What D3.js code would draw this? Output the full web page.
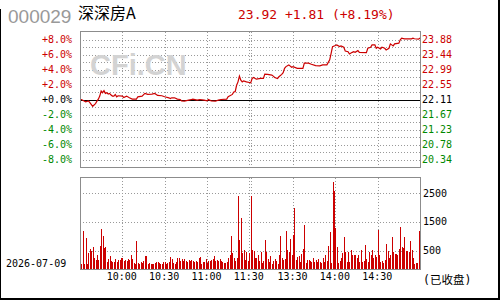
<!DOCTYPE html>
<html>
<head>
<meta charset="utf-8">
<script src="https://cdn.jsdelivr.net/npm/d3@7"></script>
<style>
  body { margin: 0; background: #fff; }
  svg { display: block; }
</style>
</head>
<body>
<svg id="chart"></svg>
<script>
const stockCode = '000029';
const stockName = '深深房A';
const quoteText = '23.92 +1.81 (+8.19%)';
const tradeDate = '2026-07-09';
const closedText = '(已收盘)';
const prevClose = 22.11;

// minute line
const priceTimes = [
  '09:30', '09:31', '09:34', '09:36', '09:37', '09:39', '09:41', '09:42', '09:43', '09:44',
  '09:45', '09:46', '09:47', '09:48', '09:49', '09:50', '09:51', '09:52', '09:53', '09:54',
  '09:55', '09:56', '09:57', '10:00', '10:01', '10:03', '10:05', '10:07', '10:10', '10:11',
  '10:14', '10:16', '10:18', '10:21', '10:23', '10:25', '10:28', '10:30', '10:33', '10:34',
  '10:35', '10:37', '10:39', '10:41', '10:42', '10:44', '10:47', '10:49', '10:50', '10:53',
  '10:55', '10:58', '11:00', '11:01', '11:03', '11:06', '11:08', '11:10', '11:14', '11:15',
  '11:18', '11:19', '11:20', '11:21', '11:22', '11:23', '11:24', '11:25', '11:26', '11:28',
  '11:30', '13:00', '13:01', '13:02', '13:04', '13:07', '13:09', '13:10', '13:12', '13:15',
  '13:16', '13:17', '13:19', '13:20', '13:22', '13:23', '13:24', '13:25', '13:27', '13:29',
  '13:30', '13:33', '13:37', '13:38', '13:41', '13:43', '13:46', '13:49', '13:51', '13:54',
  '13:56', '13:57', '13:58', '14:00', '14:01', '14:03', '14:04', '14:06', '14:07', '14:09',
  '14:10', '14:12', '14:13', '14:14', '14:16', '14:17', '14:22', '14:23', '14:25', '14:26',
  '14:28', '14:29', '14:30', '14:32', '14:33', '14:35', '14:36', '14:38', '14:39', '14:41',
  '14:42', '14:45', '14:46', '14:47', '14:49', '14:54', '14:55', '14:56', '14:59', '15:00'
];
const priceValues = [
  22.11, 22.11, 22.04, 22.07, 22.02, 21.91, 21.99, 22.06, 22.12, 22.21,
  22.36, 22.31, 22.37, 22.29, 22.31, 22.27, 22.29, 22.24, 22.21, 22.21,
  22.26, 22.19, 22.22, 22.21, 22.17, 22.21, 22.16, 22.12, 22.12, 22.19,
  22.21, 22.29, 22.26, 22.27, 22.29, 22.23, 22.22, 22.19, 22.16, 22.14,
  22.16, 22.16, 22.12, 22.11, 22.07, 22.06, 22.09, 22.11, 22.12, 22.09,
  22.11, 22.09, 22.07, 22.11, 22.07, 22.06, 22.09, 22.11, 22.12, 22.19,
  22.26, 22.33, 22.34, 22.53, 22.63, 22.80, 22.68, 22.63, 22.66, 22.63,
  22.61, 22.60, 22.73, 22.76, 22.71, 22.73, 22.73, 22.86, 22.85, 22.83,
  22.80, 22.76, 22.73, 22.78, 22.85, 22.90, 23.03, 23.08, 23.13, 23.06,
  23.08, 23.03, 23.03, 23.18, 23.18, 23.15, 23.11, 23.10, 23.13, 23.13,
  23.28, 23.47, 23.67, 23.70, 23.72, 23.67, 23.69, 23.65, 23.54, 23.52,
  23.45, 23.50, 23.52, 23.50, 23.55, 23.50, 23.49, 23.62, 23.65, 23.72,
  23.72, 23.62, 23.65, 23.60, 23.65, 23.62, 23.57, 23.62, 23.75, 23.69,
  23.75, 23.77, 23.87, 23.92, 23.90, 23.90, 23.92, 23.90, 23.89, 23.92
];

// volume per minute, 09:30-11:30 then 13:00-15:00
const volMorning = [
  0, 20, 1190, 20, 945, 20, 430, 560, 500, 640,
  235, 175, 350, 175, 665, 1260, 990, 605, 640, 95,
  210, 315, 140, 95, 120, 200, 95, 175, 175, 235,
  260, 140, 175, 140, 210, 175, 330, 210, 60, 20,
  840, 60, 40, 105, 85, 140, 315, 315, 20, 60,
  40, 40, 40, 60, 105, 105, 60, 40, 40, 95,
  105, 20, 60, 95, 280, 210, 60, 20, 120, 260,
  260, 140, 210, 140, 210, 140, 120, 175, 140, 175,
  140, 95, 140, 120, 260, 280, 20, 95, 95, 200,
  60, 140, 140, 175, 210, 315, 140, 175, 140, 200,
  140, 95, 60, 60, 95, 260, 350, 1015, 400, 260,
  140, 235, 2410, 875, 1630, 400, 525, 165, 445, 140, 410
];
const volAfternoon = [
  2385, 525, 490, 235, 235, 330, 140, 445, 60, 140,
  875, 445, 210, 95, 315, 20, 140, 200, 140, 40,
  350, 1015, 260, 175, 210, 1190, 525, 445, 910, 350,
  1050, 1980, 175, 295, 315, 95, 385, 560, 1400, 60,
  175, 175, 140, 95, 260, 95, 175, 95, 210, 95,
  60, 260, 95, 340, 140, 665, 1140, 60, 2885, 2585,
  1280, 640, 60, 140, 235, 410, 970, 445, 95, 445,
  95, 525, 350, 330, 350, 260, 330, 95, 525, 95,
  140, 700, 210, 95, 445, 350, 525, 235, 350, 295,
  1220, 330, 95, 140, 60, 175, 735, 470, 260, 350,
  955, 445, 385, 385, 350, 560, 1305, 640, 585, 955,
  470, 500, 445, 850, 525, 235, 20, 60, 60, 1165, 0
];

const gridTimes = ['10:00', '10:30', '11:00', '11:30', '13:00', '13:30', '14:00', '14:30'];
const timeLabels = ['10:00', '10:30', '11:00', '11:30', '13:30', '14:00', '14:30'];
const pctTicks = [8, 6, 4, 2, 0, -2, -4, -6, -8];
const pctGrid = [-8, -7, -6, -5, -4, -3, -2, -1, 1, 2, 3, 4, 5, 6, 7, 8];
const volTicks = [500, 1500, 2500];

const RED = '#cc0000';
const GREEN = '#008800';
const GRID = '#999999';
const MONO = '"DejaVu Sans Mono", monospace';

const minuteIndex = (t) => {
  const [h, m] = t.split(':').map(Number);
  const mins = h * 60 + m;
  return mins <= 690 ? mins - 570 : mins - 780 + 121;
};

const volumes = volMorning.concat(volAfternoon);
const prices = priceTimes.map((t, i) => ({ i: minuteIndex(t), p: priceValues[i] }));
const toPct = p => (p / prevClose - 1) * 100;

const plot = { left: 80, right: 420, top: 32, bottom: 167 };
const volBox = { top: 178, bottom: 269 };

const xScale = d3.scaleLinear().domain([0, 241]).range([plot.left, plot.right]);
const yPct = d3.scaleLinear().domain([-9, 9]).range([plot.bottom, plot.top]);
// the bars stand on the panel floor, a little under the scale's zero, as in the original
const yVol = d3.scaleLinear().domain([0, 3020]).range([265, volBox.top]);

const svg = d3.select('#chart')
  .attr('width', 500)
  .attr('height', 300)
  .style('font-family', MONO);

svg.append('rect')
  .attr('width', 500)
  .attr('height', 300)
  .attr('fill', '#fff');

// header
svg.append('text')
  .attr('x', 8)
  .attr('y', 23)
  .attr('font-family', '"Liberation Sans", Arial, sans-serif')
  .attr('font-size', 19)
  .attr('fill', '#999')
  .text(stockCode);

svg.append('text')
  .attr('x', 78)
  .attr('y', 19)
  .attr('font-family', '"Noto Sans CJK SC", sans-serif')
  .attr('font-size', 16)
  .attr('fill', '#000')
  .text(stockName);

svg.append('text')
  .attr('x', 238)
  .attr('y', 19)
  .attr('font-size', 13)
  .attr('fill', RED)
  .text(quoteText);

// price panel grid
const priceGrid = svg.append('g')
  .attr('stroke', GRID)
  .attr('stroke-dasharray', '1,2')
  .attr('shape-rendering', 'crispEdges');

priceGrid.selectAll('.hgrid')
  .data(pctGrid)
  .enter().append('line')
  .attr('x1', plot.left)
  .attr('x2', plot.right)
  .attr('y1', d => Math.round(yPct(d)) + 0.5)
  .attr('y2', d => Math.round(yPct(d)) + 0.5);

priceGrid.selectAll('.vgrid')
  .data(gridTimes)
  .enter().append('line')
  .attr('x1', d => Math.round(xScale(minuteIndex(d))) + 0.5)
  .attr('x2', d => Math.round(xScale(minuteIndex(d))) + 0.5)
  .attr('y1', plot.top)
  .attr('y2', plot.bottom);

svg.append('text')
  .attr('x', 90)
  .attr('y', 75)
  .attr('font-family', '"Liberation Sans", Arial, sans-serif')
  .attr('font-weight', 'bold')
  .attr('font-size', 29)
  .attr('fill', '#d3d3d3')
  .text('CFi.CN');

svg.append('line')
  .attr('x1', plot.left)
  .attr('x2', plot.right)
  .attr('y1', Math.round(yPct(0)) + 0.5)
  .attr('y2', Math.round(yPct(0)) + 0.5)
  .attr('stroke', '#000')
  .attr('shape-rendering', 'crispEdges');

const line = d3.line()
  .x(d => xScale(d.i))
  .y(d => yPct(toPct(d.p)));

svg.append('path')
  .datum(prices)
  .attr('d', line)
  .attr('fill', 'none')
  .attr('stroke', RED)
  .attr('stroke-width', 1.2);

svg.append('rect')
  .attr('x', plot.left + 0.5)
  .attr('y', plot.top - 0.5)
  .attr('width', plot.right - plot.left)
  .attr('height', plot.bottom - plot.top + 1)
  .attr('fill', 'none')
  .attr('stroke', '#8c8c8c')
  .attr('shape-rendering', 'crispEdges');

const pctColor = d => (d > 0 ? RED : d < 0 ? GREEN : '#000');

const leftAxis = svg.append('g')
  .attr('transform', `translate(${plot.left},0)`)
  .call(d3.axisLeft(yPct)
    .tickValues(pctTicks)
    .tickSize(0)
    .tickPadding(8)
    .tickFormat(d => `${d >= 0 ? '+' : '-'}${Math.abs(d).toFixed(1)}%`));
leftAxis.select('.domain').remove();
leftAxis.selectAll('text')
  .attr('font-family', MONO)
  .attr('font-size', 10)
  .attr('fill', pctColor);

const rightAxis = svg.append('g')
  .attr('transform', `translate(${plot.right},0)`)
  .call(d3.axisRight(yPct)
    .tickValues(pctTicks)
    .tickSize(0)
    .tickPadding(2)
    .tickFormat(d => (prevClose * (1 + d / 100)).toFixed(2)));
rightAxis.select('.domain').remove();
rightAxis.selectAll('text')
  .attr('font-family', MONO)
  .attr('font-size', 10)
  .attr('fill', pctColor);

// volume panel
const volGrid = svg.append('g')
  .attr('stroke', GRID)
  .attr('stroke-dasharray', '1,2')
  .attr('shape-rendering', 'crispEdges');

volGrid.selectAll('.hgrid')
  .data(volTicks)
  .enter().append('line')
  .attr('x1', plot.left)
  .attr('x2', plot.right)
  .attr('y1', d => Math.round(yVol(d)) + 0.5)
  .attr('y2', d => Math.round(yVol(d)) + 0.5);

volGrid.selectAll('.vgrid')
  .data(gridTimes)
  .enter().append('line')
  .attr('x1', d => Math.round(xScale(minuteIndex(d))) + 0.5)
  .attr('x2', d => Math.round(xScale(minuteIndex(d))) + 0.5)
  .attr('y1', volBox.top)
  .attr('y2', volBox.bottom);

svg.append('g')
  .attr('fill', RED)
  .attr('shape-rendering', 'crispEdges')
  .selectAll('rect')
  .data(volumes)
  .enter().append('rect')
  .attr('x', (d, i) => Math.round(xScale(i)))
  .attr('y', d => Math.min(yVol(d), volBox.bottom))
  .attr('width', 1)
  .attr('height', d => Math.max(0, volBox.bottom - yVol(d)))
  .attr('display', d => (d > 0 ? null : 'none'));

svg.append('rect')
  .attr('x', plot.left + 0.5)
  .attr('y', volBox.top - 0.5)
  .attr('width', plot.right - plot.left)
  .attr('height', volBox.bottom - volBox.top + 1)
  .attr('fill', 'none')
  .attr('stroke', '#8c8c8c')
  .attr('shape-rendering', 'crispEdges');

const volAxis = svg.append('g')
  .attr('transform', `translate(${plot.right},0)`)
  .call(d3.axisRight(yVol)
    .tickValues(volTicks)
    .tickSize(0)
    .tickPadding(3)
    .tickFormat(d3.format('d')));
volAxis.select('.domain').remove();
volAxis.selectAll('text')
  .attr('font-family', MONO)
  .attr('font-size', 10)
  .attr('fill', '#000');

const timeAxis = svg.append('g')
  .attr('transform', `translate(-1,${volBox.bottom})`)
  .call(d3.axisBottom(xScale)
    .tickValues(timeLabels.map(minuteIndex))
    .tickSize(0)
    .tickPadding(4)
    .tickFormat((d, i) => timeLabels[i]));
timeAxis.select('.domain').remove();
timeAxis.selectAll('text')
  .attr('font-family', MONO)
  .attr('font-size', 10)
  .attr('fill', '#000');

svg.append('text')
  .attr('x', 6)
  .attr('y', 267)
  .attr('font-size', 10)
  .attr('fill', '#000')
  .text(tradeDate);

svg.append('text')
  .attr('x', 423)
  .attr('y', 284)
  .attr('font-family', `${MONO}, "Noto Sans CJK SC"`)
  .attr('font-size', 11.5)
  .attr('fill', '#000')
  .text(closedText);

// outer frame: left, right and bottom edges
const frame = svg.append('g').attr('fill', '#000');
frame.append('rect').attr('x', 0).attr('y', 9).attr('width', 1).attr('height', 291);
frame.append('rect').attr('x', 498).attr('y', 0).attr('width', 2).attr('height', 300);
frame.append('rect').attr('x', 0).attr('y', 298).attr('width', 500).attr('height', 2);
</script>
</body>
</html>
